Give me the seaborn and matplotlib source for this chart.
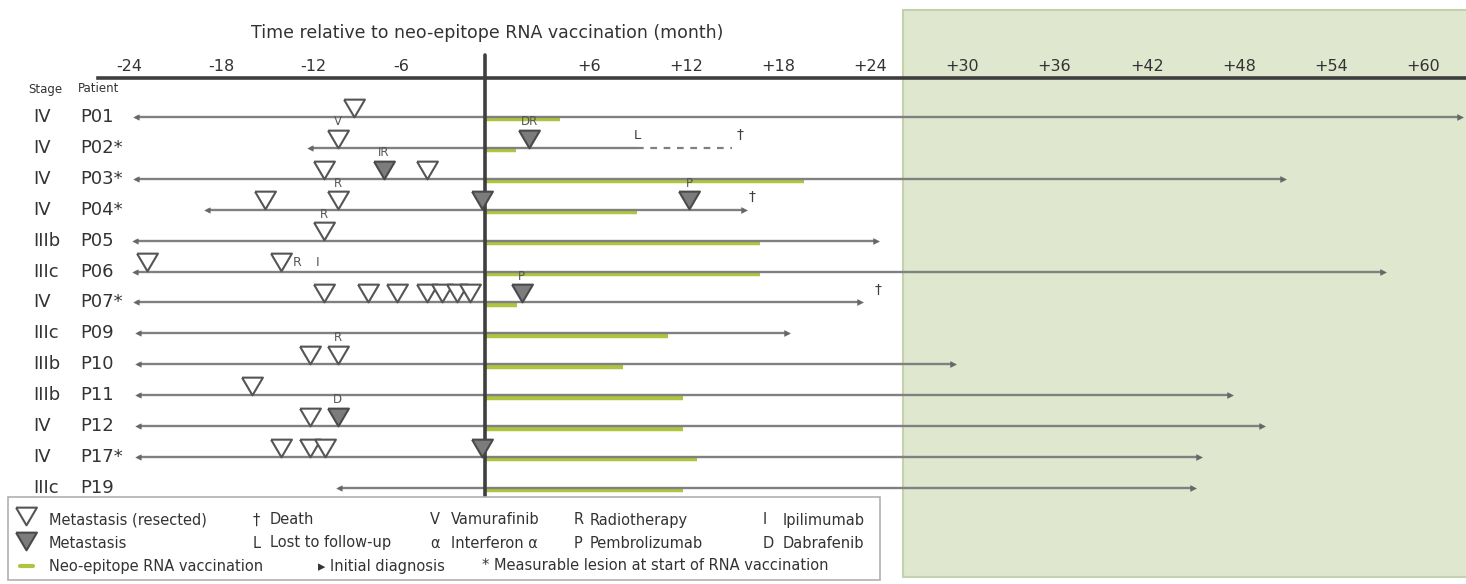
import numpy as np
import pandas as pd
import matplotlib.pyplot as plt
import matplotlib.transforms as mtransforms
from matplotlib.patches import Rectangle
from matplotlib.lines import Line2D
import seaborn as sns

sns.set_theme(style="white")
plt.rcParams.update({
    'font.family': ['DejaVu Sans'],
    'text.color': '#333333',
})

# ---- data (months relative to neo-epitope RNA vaccination) ----
patients = ["P01", "P02*", "P03*", "P04*", "P05", "P06", "P07*",
            "P09", "P10", "P11", "P12", "P17*", "P19"]
stages = ["IV", "IV", "IV", "IV", "IIIb", "IIIc", "IV",
          "IIIc", "IIIb", "IIIb", "IV", "IV", "IIIc"]
diagnosis = [-22.7, -11.4, -22.7, -18.1, -22.8, -22.8, -22.7,
             -22.6, -22.6, -22.6, -22.6, -22.6, -9.5]
last_seen = [63.5, 9.9, 52.0, 16.9, 25.5, 58.5, 24.4,
             19.7, 30.5, 48.5, 50.6, 46.5, 46.1]
vacc_end = [4.9, 2.0, 20.8, 9.9, 17.9, 17.9, 2.1,
            11.9, 9.0, 12.9, 12.9, 13.8, 12.9]

resected_patient = ["P01", "P02*", "P03*", "P03*", "P04*", "P04*", "P05",
                    "P06", "P06", "P07*", "P07*", "P07*", "P07*", "P07*",
                    "P07*", "P07*", "P10", "P10", "P11", "P12",
                    "P17*", "P17*", "P17*"]
resected_month = [-8.5, -9.6, -10.5, -3.8, -14.3, -9.6, -10.5,
                  -22.0, -13.3, -10.5, -7.6, -5.7, -3.8, -2.8,
                  -1.8, -1.0, -11.4, -9.6, -15.2, -11.4,
                  -13.3, -11.4, -10.4]

metastasis_patient = ["P02*", "P03*", "P04*", "P04*", "P07*", "P12", "P17*"]
metastasis_month = [2.9, -6.6, -0.2, 13.3, 2.4, -9.6, -0.2]

therapy_patient = ["P02*", "P02*", "P03*", "P04*", "P04*", "P05", "P07*", "P10", "P12"]
therapy_month = [-9.6, 2.9, -6.6, -9.6, 13.3, -10.5, 2.4, -9.6, -9.6]
therapy_code = ["V", "DR", "IR", "R", "P", "R", "P", "R", "D"]

inline_patient = ["P06", "P06"]
inline_month = [-12.2, -10.9]
inline_code = ["R", "I"]

death_patient = ["P02*", "P04*", "P07*"]
death_month = [16.6, 17.4, 25.6]

lost_patient = ["P02*"]
lost_month = [9.9]

ticks = [-24, -18, -12, -6, 0, 6, 12, 18, 24, 30, 36, 42, 48, 54, 60]
tick_labels = ["-24", "-18", "-12", "-6", "", "+6", "+12", "+18", "+24",
               "+30", "+36", "+42", "+48", "+54", "+60"]
long_term_from = 27.2

# ---- figure ----
W, H = 1466, 584
fig = plt.figure(figsize=(W / 100, H / 100), dpi=100)
ax = fig.add_axes([98 / W, 0, 1 - 98 / W, 1 - 78 / H])
ax.set_xlim(-25.2, 63.9)
ax.set_ylim(15.11, -1.262)


def fx(px):
    return px / W


def fy(py):
    return 1 - py / H


def row_of(py):
    return (py - 117) / 30.9


row = {p: i for i, p in enumerate(patients)}
rows = np.arange(len(patients))
line_c = '#808080'
dark = '#3f3f3f'

# long-term follow-up shading
xfig = mtransforms.blended_transform_factory(ax.transData, fig.transFigure)
ax.add_patch(Rectangle((long_term_from, fy(577)), 80, (577 - 10) / H,
                       transform=xfig, facecolor='#dfe7cf', edgecolor='#c4d1ae',
                       lw=1.5, clip_on=False, zorder=0))

# vaccination period
ax.hlines(rows + 0.08, 0, vacc_end, color='#b1c43f', lw=3.2, zorder=1.5)

# follow-up lines
ax.hlines(rows, diagnosis, last_seen, color=line_c, lw=1.7, zorder=2)
for p, m in zip(lost_patient, lost_month):
    i = row[p]
    d = death_month[death_patient.index(p)]
    ax.plot([m, d - 0.5], [i, i], color=line_c, lw=1.6, ls=(0, (3, 3)), zorder=2)
    ax.text(m, i - 0.4, "L", ha='center', va='center', fontsize=9.5, color=dark)

for p, m in zip(death_patient, death_month):
    ax.text(m, row[p] - 0.42, "\u2020", ha='center', va='center', fontsize=10, color=dark)

# start / ongoing markers
sns.scatterplot(x=diagnosis, y=rows, marker='<', s=16, color='#666666',
                edgecolor='#666666', ax=ax, zorder=3, legend=False)
ongoing = [i for i, p in enumerate(patients) if p not in lost_patient]
sns.scatterplot(x=[last_seen[i] for i in ongoing], y=ongoing, marker='>', s=18,
                color='#666666', edgecolor='#666666', ax=ax, zorder=3, legend=False)

# vaccination start line
ax.plot([0, 0], [row_of(55), row_of(497)], color=dark, lw=2.6, clip_on=False, zorder=3)

# metastases
tri = [(-1.0, 0.85), (1.0, 0.85), (0.0, -0.85), (-1.0, 0.85)]
off = 0.3
df_res = pd.DataFrame({"month": resected_month,
                       "y": [row[p] - off for p in resected_patient]})
df_met = pd.DataFrame({"month": metastasis_month,
                       "y": [row[p] - off for p in metastasis_patient]})
sns.scatterplot(data=df_res, x="month", y="y", marker=tri, s=225, color='white',
                edgecolor='#555555', linewidth=1.5, ax=ax, zorder=4, legend=False)
sns.scatterplot(data=df_met, x="month", y="y", marker=tri, s=225, color='#7c7c7c',
                edgecolor='#4a4a4a', linewidth=1.5, ax=ax, zorder=4, legend=False)

for p, m, c in zip(therapy_patient, therapy_month, therapy_code):
    ax.text(m, row[p] - 0.85, c, ha='center', va='center', fontsize=8.5,
            color='#555555', zorder=5)
for p, m, c in zip(inline_patient, inline_month, inline_code):
    ax.text(m, row[p] - 0.3, c, ha='center', va='center', fontsize=9,
            color='#555555', zorder=5)

# axis
ax.set_xlabel("")
ax.set_ylabel("")
ax.xaxis.tick_top()
ax.set_xticks(ticks)
ax.set_xticklabels(tick_labels, ha='left')
ax.tick_params(axis='x', length=0, pad=3, labelsize=11.5, labelcolor='#333333')
ax.set_yticks([])
for s in ['left', 'right', 'bottom']:
    ax.spines[s].set_visible(False)
ax.spines['top'].set_linewidth(2.6)
ax.spines['top'].set_color(dark)
ax.patch.set_alpha(0)

fig.text(fx(487), fy(33), "Time relative to neo-epitope RNA vaccination (month)",
         ha='center', va='center', fontsize=12.5)

# row labels
bt = mtransforms.blended_transform_factory(fig.transFigure, ax.transData)
for i in rows:
    ax.text(fx(33), i, stages[i], transform=bt, ha='left', va='center', fontsize=13)
    ax.text(fx(80), i, patients[i], transform=bt, ha='left', va='center', fontsize=13)
fig.text(fx(28), fy(89), "Stage", ha='left', va='center', fontsize=8.5)
fig.text(fx(78), fy(89), "Patient", ha='left', va='center', fontsize=8.5)

# legend box
fig.add_artist(Rectangle((fx(8), fy(580)), (880 - 8) / W, (580 - 497) / H,
                         transform=fig.transFigure, facecolor='white',
                         edgecolor='#b0b0b0', lw=1.2))
fig.add_artist(Line2D([fx(26)], [fy(516)], marker=tri, markersize=15,
                      markerfacecolor='white', markeredgecolor='#555555',
                      markeredgewidth=1.5, transform=fig.transFigure))
fig.add_artist(Line2D([fx(26)], [fy(541)], marker=tri, markersize=15,
                      markerfacecolor='#7c7c7c', markeredgecolor='#4a4a4a',
                      markeredgewidth=1.5, transform=fig.transFigure))
fig.add_artist(Line2D([fx(20), fx(33)], [fy(566), fy(566)], color='#b1c43f', lw=3,
                      transform=fig.transFigure))
legend_rows = [
    [(49, "Metastasis (resected)"), (253, "\u2020"), (270, "Death"), (430, "V"),
     (451, "Vamurafinib"), (574, "R"), (590, "Radiotherapy"), (763, "I"), (783, "Ipilimumab")],
    [(49, "Metastasis"), (253, "L"), (270, "Lost to follow-up"), (430, "\u03b1"),
     (451, "Interferon \u03b1"), (574, "P"), (590, "Pembrolizumab"), (763, "D"), (783, "Dabrafenib")],
    [(49, "Neo-epitope RNA vaccination"), (318, "\u25b8 Initial diagnosis"),
     (482, "* Measurable lesion at start of RNA vaccination")],
]
for py, items in zip([520, 543, 566], legend_rows):
    for px, t in items:
        fig.text(fx(px), fy(py), t, ha='left', va='center', fontsize=10.5)

fig.savefig("out.png", dpi=100)
